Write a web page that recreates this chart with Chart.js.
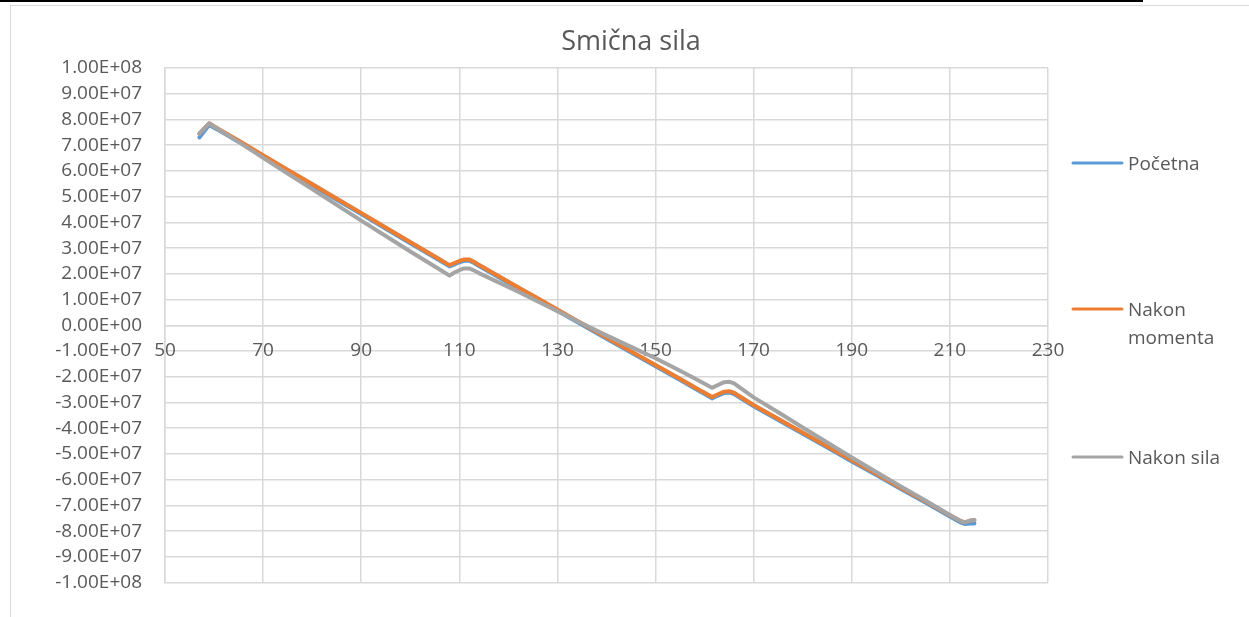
<!DOCTYPE html>
<html>
<head>
<meta charset="utf-8">
<title>Smična sila</title>
<script src="https://cdn.jsdelivr.net/npm/chart.js@4.4.1/dist/chart.umd.min.js"></script>
<style>
  body { margin: 0; background: #fff; overflow: hidden; }
  #wrap { position: relative; width: 1249px; height: 617px; }
  #chart { position: absolute; left: 0; top: 0; }
  .topBar { position: absolute; left: 0; top: 0; width: 1143px; height: 2px; background: #000; }
  .frameTop { position: absolute; left: 10px; top: 5px; right: 0; height: 1px; background: #d9d9d9; }
  .frameLeft { position: absolute; left: 10px; top: 5px; bottom: 0; width: 1px; background: #d9d9d9; }
</style>
</head>
<body>
<div id="wrap">
  <canvas id="chart" width="1249" height="617"></canvas>
  <div class="topBar"></div>
  <div class="frameTop"></div>
  <div class="frameLeft"></div>
</div>
<script>
// ---------- Data (values in 1e7) ----------
const xValues = [57, 59, 61, 65, 70, 75, 80, 85, 90, 95, 100, 104, 106, 108, 109, 110, 111, 112, 113, 114,
  118, 122, 126, 130, 135, 140, 145, 150, 155, 158, 160, 161.5, 162.5, 164, 165, 166, 170, 175, 180,
  185, 190, 195, 200, 205, 210, 212, 213, 214, 215];

const nakonMomenta = [7.45, 7.85, 7.62, 7.18, 6.61, 6.05, 5.49, 4.93, 4.37, 3.80, 3.24, 2.79, 2.57, 2.34, 2.42, 2.50, 2.56, 2.56, 2.47, 2.35,
  1.92, 1.48, 1.05, 0.61, 0.07, -0.47, -1.01, -1.54, -2.08, -2.41, -2.62, -2.79, -2.70, -2.58, -2.56, -2.62, -3.10, -3.63, -4.17,
  -4.70, -5.24, -5.77, -6.31, -6.84, -7.38, -7.59, -7.66, -7.60, -7.57];

const pocetna = [7.30, 7.78, 7.57, 7.13, 6.56, 6.00, 5.44, 4.88, 4.32, 3.75, 3.19, 2.74, 2.52, 2.29, 2.37, 2.45, 2.51, 2.51, 2.42, 2.30,
  1.87, 1.43, 1.00, 0.56, 0.02, -0.52, -1.06, -1.59, -2.13, -2.46, -2.67, -2.84, -2.75, -2.63, -2.61, -2.67, -3.15, -3.68, -4.22,
  -4.75, -5.29, -5.82, -6.36, -6.89, -7.43, -7.65, -7.72, -7.70, -7.70];

const nakonSila = [7.45, 7.85, 7.60, 7.13, 6.51, 5.90, 5.29, 4.68, 4.07, 3.47, 2.87, 2.40, 2.17, 1.93, 2.05, 2.14, 2.21, 2.21, 2.13, 2.03,
  1.67, 1.31, 0.93, 0.55, 0.07, -0.39, -0.84, -1.28, -1.77, -2.07, -2.27, -2.43, -2.34, -2.21, -2.19, -2.26, -2.80, -3.38, -3.97,
  -4.55, -5.14, -5.70, -6.26, -6.81, -7.37, -7.59, -7.66, -7.60, -7.57];

const seriesLabels = ["Početna", "Nakon momenta", "Nakon sila"];
const xTicks = [50, 70, 90, 110, 130, 150, 170, 190, 210, 230];
const yTicks = [-10, -9, -8, -7, -6, -5, -4, -3, -2, -1, 0, 1, 2, 3, 4, 5, 6, 7, 8, 9, 10];
const scale = 1e7;

// ---------- Helpers ----------
function toPoints(ys) {
  return xValues.map((x, i) => ({ x: x, y: ys[i] * scale }));
}

function excelSci(v) {
  if (Math.abs(v) < 1) return "0.00E+00";
  const parts = v.toExponential(2).split("e");
  const sign = parts[1][0] === "-" ? "-" : "+";
  const exp = parts[1].replace(/[+-]/, "").padStart(2, "0");
  return parts[0] + "E" + sign + exp;
}

const textColor = "#595959";
const gridColor = "#d9d9d9";
const fontFamily = "'Open Sans', 'Noto Sans', sans-serif";

// title + legend drawn on the canvas
const decorPlugin = {
  id: "decor",
  afterDraw(chart) {
    const ctx = chart.ctx;
    ctx.save();
    ctx.fillStyle = textColor;
    ctx.font = "27px " + fontFamily;
    ctx.textAlign = "center";
    ctx.textBaseline = "alphabetic";
    ctx.fillText("Smična sila", 631, 50);

    const legendY = [163, 309, 457];
    ctx.font = "19px " + fontFamily;
    ctx.textAlign = "left";
    chart.data.datasets.forEach((ds, i) => {
      const y = legendY[i];
      ctx.strokeStyle = ds.borderColor;
      ctx.lineWidth = 3;
      ctx.lineCap = "round";
      ctx.beginPath();
      ctx.moveTo(1073, y);
      ctx.lineTo(1122, y);
      ctx.stroke();
      const words = ds.label === "Nakon momenta" ? ["Nakon", "momenta"] : [ds.label];
      words.forEach((w, k) => ctx.fillText(w, 1128, y + 7 + k * 28));
    });
    ctx.restore();
  }
};

// ---------- Chart ----------
const ctx = document.getElementById("chart").getContext("2d");
new Chart(ctx, {
  type: "line",
  data: {
    datasets: [
      { label: seriesLabels[0], data: toPoints(pocetna), borderColor: "#5B9BD5", order: 3 },
      { label: seriesLabels[1], data: toPoints(nakonMomenta), borderColor: "#ED7D31", order: 2 },
      { label: seriesLabels[2], data: toPoints(nakonSila), borderColor: "#A5A5A5", order: 1 }
    ]
  },
  options: {
    responsive: false,
    animation: false,
    devicePixelRatio: 1,
    layout: { padding: { top: 68, right: 201, bottom: 30, left: 0 } },
    elements: {
      point: { radius: 0 },
      line: { tension: 0, borderWidth: 4, borderCapStyle: "round", borderJoinStyle: "round", fill: false }
    },
    plugins: { legend: { display: false }, title: { display: false }, tooltip: { enabled: false } },
    scales: {
      x: {
        type: "linear",
        min: xTicks[0],
        max: xTicks[xTicks.length - 1],
        position: { y: 0 },
        afterBuildTicks: s => { s.ticks = xTicks.map(v => ({ value: v })); },
        ticks: { color: textColor, font: { family: fontFamily, size: 19 }, padding: 14, maxRotation: 0, autoSkip: false },
        grid: { color: gridColor, lineWidth: 1.5, drawTicks: false },
        border: { color: gridColor, width: 1.5 }
      },
      y: {
        type: "linear",
        min: yTicks[0] * scale,
        max: yTicks[yTicks.length - 1] * scale,
        afterBuildTicks: s => { s.ticks = yTicks.map(v => ({ value: v * scale })); },
        afterFit: s => { s.width = 165; },
        ticks: { color: textColor, font: { family: fontFamily, size: 19 }, padding: 23, callback: v => excelSci(v) },
        grid: { color: gridColor, lineWidth: 1.5, drawTicks: false },
        border: { color: gridColor, width: 1.5 }
      }
    }
  },
  plugins: [decorPlugin]
});
</script>
</body>
</html>
